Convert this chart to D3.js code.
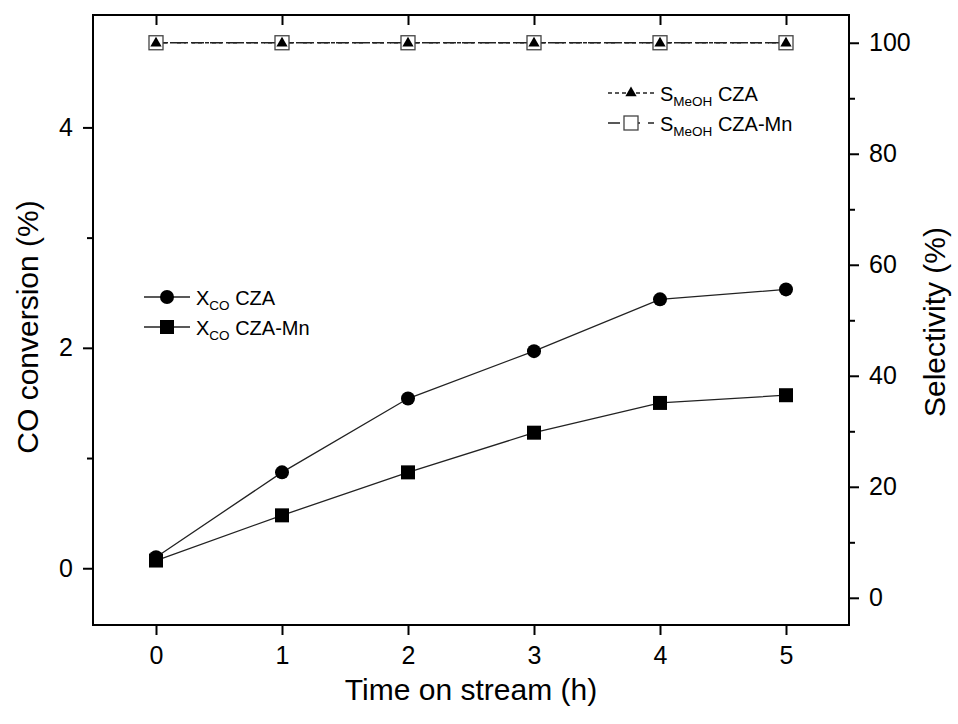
<!DOCTYPE html>
<html>
<head>
<meta charset="utf-8">
<script src="https://cdn.jsdelivr.net/npm/d3@7"></script>
<style>
  body { margin: 0; background: #fff; }
  text { font-family: "Liberation Sans", Arial, sans-serif; fill: #000; }
</style>
</head>
<body>
<div id="chart"></div>
<script>
// data
var hours = [0, 1, 2, 3, 4, 5];
var xcoCZA = [0.10, 0.87, 1.54, 1.97, 2.44, 2.53];
var xcoCZAMn = [0.07, 0.48, 0.87, 1.23, 1.50, 1.57];
var smeohCZA = [100, 100, 100, 100, 100, 100];
var smeohCZAMn = [100, 100, 100, 100, 100, 100];
var xTicks = [0, 1, 2, 3, 4, 5];
var leftTicks = [0, 2, 4];
var leftMinor = [1, 3];
var rightTicks = [0, 20, 40, 60, 80, 100];
var rightMinor = [10, 30, 50, 70, 90];

var W = 958, H = 724;
var margin = { top: 15, right: 109, bottom: 99, left: 93 },
  width = W - margin.left - margin.right,
  height = H - margin.top - margin.bottom;

var svg = d3.select("#chart").append("svg")
  .attr("width", W).attr("height", H);
var g = svg.append("g")
  .attr("transform", "translate(" + margin.left + "," + margin.top + ")");

var x = d3.scaleLinear().domain([-0.5, 5.5]).range([0, width]);
var yL = d3.scaleLinear().domain([-0.515, 5.02]).range([height, 0]);
var yR = d3.scaleLinear().domain([-4.9, 105]).range([height, 0]);

function styleAxis(sel) {
  sel.select(".domain").remove();
  sel.selectAll(".tick line").attr("stroke", "#000").attr("stroke-width", 2);
  sel.selectAll(".tick text")
    .attr("font-family", "Liberation Sans, Arial, sans-serif")
    .attr("font-size", 25);
}

// bottom
g.append("g").attr("transform", "translate(0," + height + ")")
  .call(d3.axisBottom(x).tickValues(xTicks).tickSize(10).tickPadding(11).tickFormat(d3.format("d")))
  .call(styleAxis);
// top (inside ticks, no labels)
g.append("g")
  .call(d3.axisTop(x).tickValues(xTicks).tickSize(-10).tickFormat(""))
  .call(styleAxis);
// left
g.append("g")
  .call(d3.axisLeft(yL).tickValues(leftTicks).tickSize(10).tickPadding(10).tickFormat(d3.format("d")))
  .call(styleAxis);
g.append("g")
  .call(d3.axisLeft(yL).tickValues(leftMinor).tickSize(6).tickFormat(""))
  .call(styleAxis);
// right
g.append("g").attr("transform", "translate(" + width + ",0)")
  .call(d3.axisRight(yR).tickValues(rightTicks).tickSize(10).tickPadding(10).tickFormat(d3.format("d")))
  .call(styleAxis);
g.append("g").attr("transform", "translate(" + width + ",0)")
  .call(d3.axisRight(yR).tickValues(rightMinor).tickSize(6).tickFormat(""))
  .call(styleAxis);

// frame
g.append("rect").attr("width", width).attr("height", height)
  .attr("fill", "none").attr("stroke", "#000").attr("stroke-width", 2);

// lines
function drawLine(vals, yScale, dash) {
  var line = d3.line()
    .x(function (d, i) { return x(hours[i]); })
    .y(function (d) { return yScale(d); });
  g.append("path").datum(vals)
    .attr("d", line)
    .attr("fill", "none")
    .attr("stroke", "#222")
    .attr("stroke-width", 1.3)
    .attr("stroke-dasharray", dash);
}
drawLine(smeohCZAMn, yR, "12,6");
drawLine(smeohCZA, yR, "4,3");
drawLine(xcoCZA, yL, null);
drawLine(xcoCZAMn, yL, null);

var tri = d3.symbol().type(d3.symbolTriangle).size(55);

// markers
g.selectAll(".sq-open").data(smeohCZAMn).enter().append("rect")
  .attr("x", function (d, i) { return x(hours[i]) - 7; })
  .attr("y", function (d) { return yR(d) - 7; })
  .attr("width", 14).attr("height", 14)
  .attr("fill", "#fff").attr("stroke", "#444").attr("stroke-width", 1.3);
g.selectAll(".tri").data(smeohCZA).enter().append("path")
  .attr("d", tri)
  .attr("transform", function (d, i) { return "translate(" + x(hours[i]) + "," + (yR(d) + 0.5) + ")"; })
  .attr("fill", "#000");
g.selectAll(".circ").data(xcoCZA).enter().append("circle")
  .attr("cx", function (d, i) { return x(hours[i]); })
  .attr("cy", function (d) { return yL(d); })
  .attr("r", 7).attr("fill", "#000");
g.selectAll(".sq").data(xcoCZAMn).enter().append("rect")
  .attr("x", function (d, i) { return x(hours[i]) - 7; })
  .attr("y", function (d) { return yL(d) - 7; })
  .attr("width", 14).attr("height", 14)
  .attr("fill", "#000");

// legends
function legendEntry(lx, ly, dash, marker, main, sub, rest) {
  svg.append("line").attr("x1", lx).attr("x2", lx + 46).attr("y1", ly).attr("y2", ly)
    .attr("stroke", "#222").attr("stroke-width", 1.3).attr("stroke-dasharray", dash);
  var cx = lx + 23;
  if (marker === "circle") {
    svg.append("circle").attr("cx", cx).attr("cy", ly).attr("r", 7).attr("fill", "#000");
  } else if (marker === "square") {
    svg.append("rect").attr("x", cx - 7).attr("y", ly - 7).attr("width", 14).attr("height", 14).attr("fill", "#000");
  } else if (marker === "tri") {
    svg.append("path").attr("d", tri).attr("transform", "translate(" + cx + "," + ly + ")").attr("fill", "#000");
  } else {
    svg.append("rect").attr("x", cx - 7).attr("y", ly - 7).attr("width", 14).attr("height", 14)
      .attr("fill", "#fff").attr("stroke", "#444").attr("stroke-width", 1.3);
  }
  var t = svg.append("text").attr("x", lx + 52).attr("y", ly + 8).style("font-size", "20px");
  t.append("tspan").text(main);
  t.append("tspan").attr("dy", 5).style("font-size", "13.5px").text(sub);
  t.append("tspan").attr("dy", -5).text(" " + rest);
}
legendEntry(608, 93, "4,3", "tri", "S", "MeOH", "CZA");
legendEntry(608, 123, "12,8", "opensq", "S", "MeOH", "CZA-Mn");
legendEntry(144, 297, null, "circle", "X", "CO", "CZA");
legendEntry(144, 327, null, "square", "X", "CO", "CZA-Mn");

// axis titles
svg.append("text").attr("x", margin.left + width / 2).attr("y", 700)
  .attr("text-anchor", "middle").style("font-size", "30px").text("Time on stream (h)");
svg.append("text").attr("transform", "translate(38,327) rotate(-90)")
  .attr("text-anchor", "middle").style("font-size", "30px").text("CO conversion (%)");
svg.append("text").attr("transform", "translate(945,322) rotate(-90)")
  .attr("text-anchor", "middle").style("font-size", "30px").text("Selectivity (%)");
</script>
</body>
</html>
